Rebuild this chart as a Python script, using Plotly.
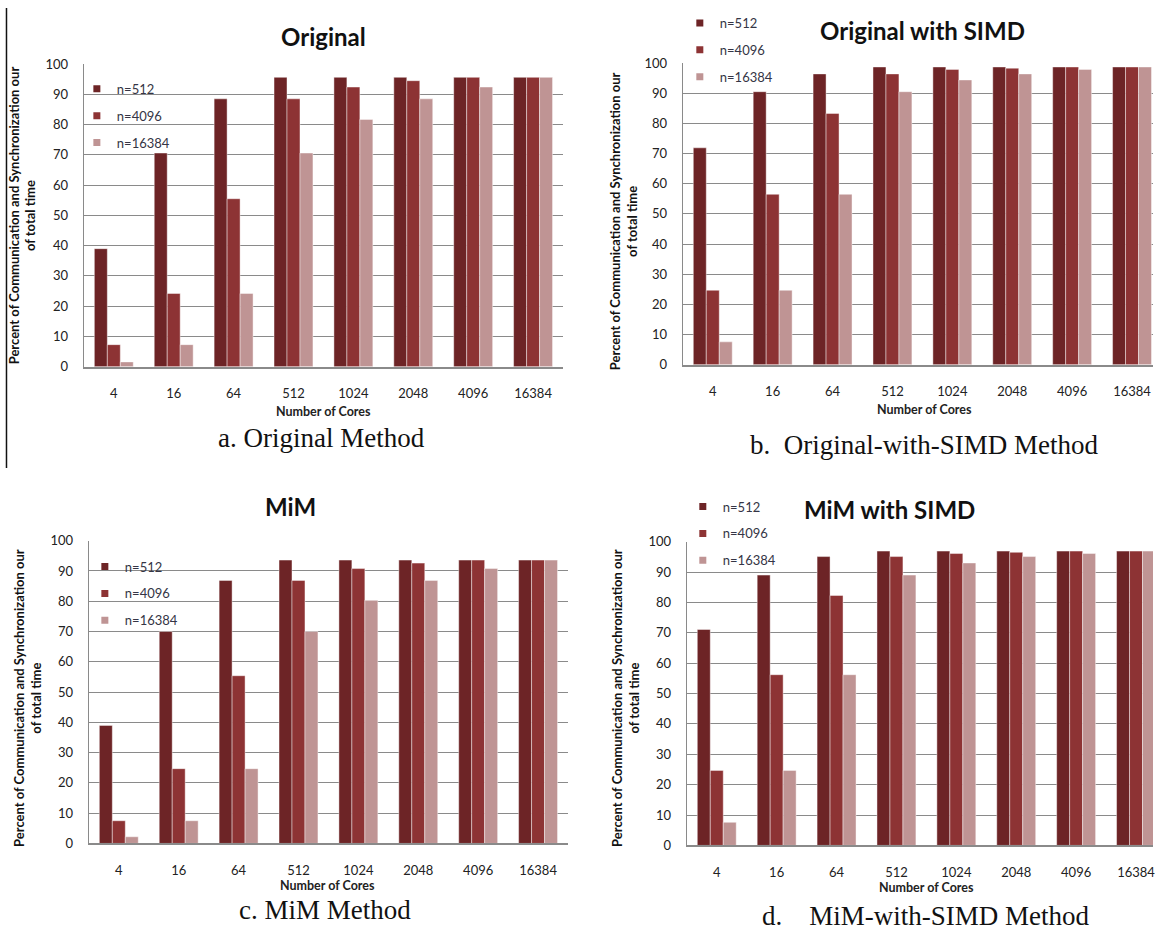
import plotly.graph_objects as go

W, H = 1155, 934

# ---------------- data ----------------
cores = ["4", "16", "64", "512", "1024", "2048", "4096", "16384"]
series_names = ["n=512", "n=4096", "n=16384"]

orig_512 = [39.0, 70.6, 88.5, 95.6, 95.6, 95.6, 95.6, 95.6]
orig_4096 = [7.3, 24.2, 55.5, 88.5, 92.4, 94.5, 95.6, 95.6]
orig_16384 = [1.6, 7.3, 24.2, 70.6, 81.7, 88.5, 92.4, 95.6]

simd_512 = [71.9, 90.5, 96.4, 98.7, 98.7, 98.7, 98.7, 98.7]
simd_4096 = [24.7, 56.5, 83.3, 96.4, 97.9, 98.3, 98.7, 98.7]
simd_16384 = [7.6, 24.7, 56.5, 90.5, 94.4, 96.4, 97.9, 98.7]

mim_512 = [39.0, 70.0, 86.9, 93.6, 93.6, 93.6, 93.6, 93.6]
mim_4096 = [7.5, 24.7, 55.4, 86.9, 90.8, 92.6, 93.6, 93.6]
mim_16384 = [2.2, 7.5, 24.7, 70.0, 80.3, 86.9, 90.8, 93.6]

mimsimd_512 = [71.1, 89.0, 95.1, 96.9, 96.9, 96.9, 96.9, 96.9]
mimsimd_4096 = [24.7, 56.2, 82.3, 95.1, 96.1, 96.5, 96.9, 96.9]
mimsimd_16384 = [7.6, 24.7, 56.2, 89.0, 93.0, 95.1, 96.1, 96.9]

titles = ["Original", "Original with SIMD", "MiM", "MiM with SIMD"]
captions = ["a. Original Method", "b.&nbsp;&nbsp;Original-with-SIMD Method",
            "c. MiM Method", "d.&nbsp;&nbsp;&nbsp;&nbsp;MiM-with-SIMD Method"]
y_title = "Percent of Communication and Synchronization our<br>of total time"
x_title = "Number of Cores"

panel_values = [
    [orig_512, orig_4096, orig_16384],
    [simd_512, simd_4096, simd_16384],
    [mim_512, mim_4096, mim_16384],
    [mimsimd_512, mimsimd_4096, mimsimd_16384],
]

colors = ["#6D2426", "#8D3334", "#BF9494"]

# ---------------- layout (pixel geometry) ----------------
SP = 60.0  # category spacing in px
panels = [
    dict(left=84, right=564, top=57, bottom=365, title=(324, 29), xt=(324, 411),
         cap=(322, 438), yt=(22, 211), leg=(77, 67)),
    dict(left=684, right=1155, top=56, bottom=363, title=(924, 23), xt=(926, 408),
         cap=(926, 445), yt=(624, 217), leg=(681, 0)),
    dict(left=89, right=569, top=542, bottom=850, title=(291, 507), xt=(328, 893),
         cap=(326, 918), yt=(28, 702), leg=(85, 553)),
    dict(left=688, right=1155, top=543, bottom=852, title=(891, 510), xt=(928, 895),
         cap=(928, 924), yt=(627, 702), leg=(684, 492)),
]


def px(x):
    return x / W


def py(y):
    return 1 - y / H


fig = go.Figure()
FONT = "Lato, Open Sans, sans-serif"
annotations = []
layout_axes = {}

for p, cfg in enumerate(panels):
    sfx = "" if p == 0 else str(p + 1)
    xa, ya = "x" + sfx, "y" + sfx
    leg = "legend" + sfx
    for i, name in enumerate(series_names):
        fig.add_trace(go.Bar(
            x=cores, y=panel_values[p][i], name=name, xaxis=xa, yaxis=ya,
            marker=dict(color=colors[i], line=dict(color="rgba(255,255,255,0.55)", width=0.8)),
            showlegend=False, offsetgroup=str(i), hoverinfo="x+y+name",
        ))
    for i, name in enumerate(series_names):
        fig.add_trace(go.Scatter(
            x=[None], y=[None], mode="markers", name=name, xaxis=xa, yaxis=ya,
            marker=dict(symbol="square", size=7, color=colors[i]),
            legend=leg, legendgroup=f"p{p}s{i}", showlegend=True,
        ))
    span = (cfg["right"] - cfg["left"]) / SP
    layout_axes["xaxis" + sfx] = dict(
        domain=[px(cfg["left"]), px(cfg["right"])], anchor=ya,
        type="category", range=[-0.5, -0.5 + span],
        showline=True, linecolor="#8a8a8a", linewidth=1.5, showgrid=False,
        ticks="", ticklabelstandoff=14,
        tickfont=dict(family=FONT, size=13, color="#222222"),
        fixedrange=True,
    )
    layout_axes["yaxis" + sfx] = dict(
        domain=[py(cfg["bottom"]), py(cfg["top"])], anchor=xa,
        range=[0, 100], tickvals=list(range(0, 101, 10)),
        showline=True, linecolor="#8a8a8a", linewidth=1.2,
        showgrid=True, gridcolor="#8a8a8a", gridwidth=1, zeroline=False,
        ticks="", ticklabelstandoff=12,
        tickfont=dict(family=FONT, size=13, color="#222222"),
        fixedrange=True,
    )
    layout_axes[leg] = dict(
        x=px(cfg["leg"][0]), y=py(cfg["leg"][1]), xanchor="left", yanchor="top",
        bgcolor="rgba(0,0,0,0)", font=dict(family=FONT, size=13, color="#353545"),
        tracegroupgap=7, itemwidth=30,
    )
    annotations += [
        dict(text=f"<b>{titles[p]}</b>", x=px(cfg["title"][0]), y=py(cfg["title"][1]),
             xref="paper", yref="paper", showarrow=False, xanchor="center", yanchor="middle",
             font=dict(family=FONT, size=24, color="#111111")),
        dict(text=f"<b>{x_title}</b>", x=px(cfg["xt"][0]), y=py(cfg["xt"][1]),
             xref="paper", yref="paper", showarrow=False, xanchor="center", yanchor="middle",
             font=dict(family=FONT, size=12.5, color="#222222")),
        dict(text=f"<b>{y_title}</b>", x=px(cfg["yt"][0]), y=py(cfg["yt"][1]),
             xref="paper", yref="paper", showarrow=False, xanchor="center", yanchor="middle",
             textangle=-90, font=dict(family=FONT, size=13, color="#111111")),
        dict(text=captions[p], x=px(cfg["cap"][0]), y=py(cfg["cap"][1]),
             xref="paper", yref="paper", showarrow=False, xanchor="center", yanchor="middle",
             font=dict(family="Liberation Serif, Times New Roman, serif", size=27, color="#111111")),
    ]

fig.update_layout(
    width=W, height=H, margin=dict(l=0, r=0, t=0, b=0),
    paper_bgcolor="white", plot_bgcolor="white",
    barmode="group", bargap=0.35, bargroupgap=0.0,
    annotations=annotations,
    shapes=[dict(type="line", xref="paper", yref="paper", x0=px(6.5), x1=px(6.5),
                 y0=1.0, y1=py(468), line=dict(color="#111111", width=1.5))],
    **layout_axes,
)

fig.write_html(
    "out.html",
    config={"displayModeBar": False},
    post_script="document.body.style.margin='0px';document.body.style.overflow='hidden';",
)
